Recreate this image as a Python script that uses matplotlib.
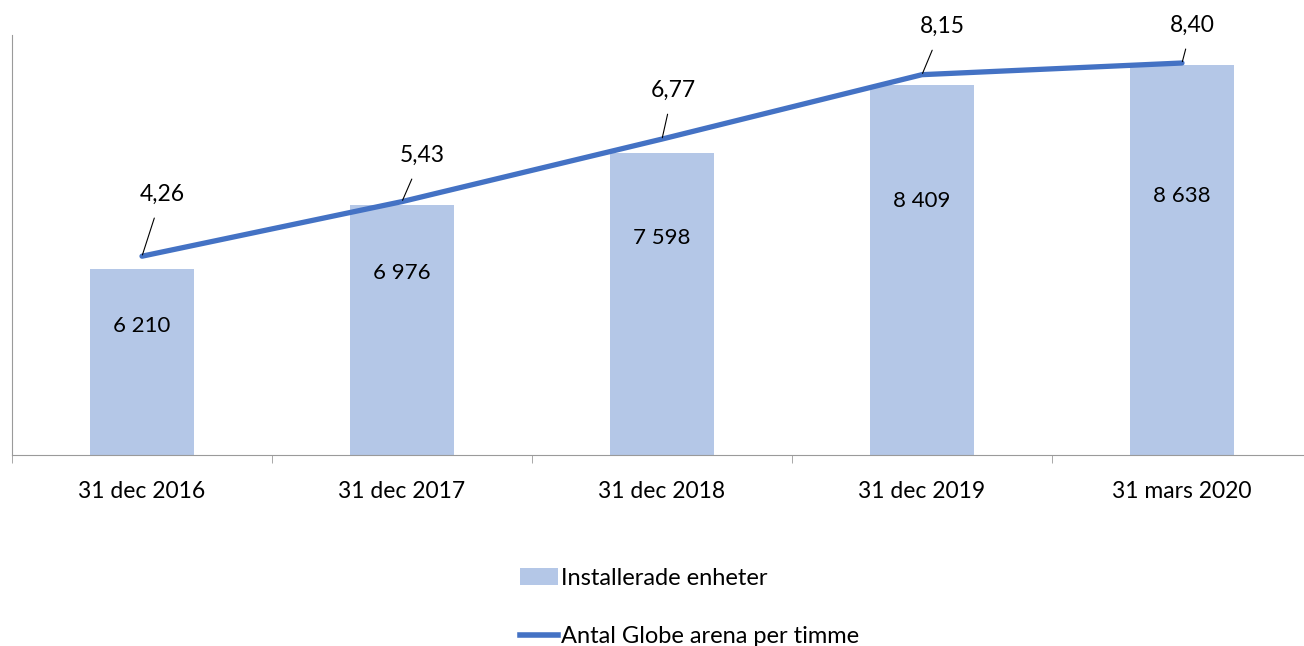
import numpy as np
import matplotlib.pyplot as plt
from matplotlib.patches import Patch
from matplotlib.lines import Line2D

# Data

categories = ["31 dec 2016", "31 dec 2017", "31 dec 2018", "31 dec 2019", "31 mars 2020"]
units = [6210, 6976, 7598, 8409, 8638]
unit_labels = ["6 210", "6 976", "7 598", "8 409", "8 638"]
per_hour = [4.26, 5.43, 6.77, 8.15, 8.40]
per_hour_labels = ["4,26", "5,43", "6,77", "8,15", "8,40"]

bar_color = "#B4C7E7"
line_color = "#4472C4"
font = ["Lato", "DejaVu Sans"]

plt.rcParams['font.family'] = font

fig = plt.figure(figsize=(13.04, 6.46), dpi=100)
ax = fig.add_axes([12/1304, 191/646, 1300/1304, 420/646])
x = np.arange(len(categories))

ax.bar(x, units, width=0.4, color=bar_color, zorder=2)
ax.set_ylim(4000, 9000)
ax.set_xlim(-0.5, len(categories) - 0.5)

# bar labels, placed a bit below the top of each bar
bar_drop = [57, 68, 85, 116, 131]
for xi, v, lab, d in zip(x, units, unit_labels, bar_drop):
    ax.annotate(lab, (xi, v), xytext=(0, -d), textcoords='offset pixels',
                ha='center', va='center', fontsize=16)

ax2 = ax.twinx()
ax2.set_ylim(0, 9)
ax2.plot(x, per_hour, color=line_color, lw=3.8, solid_capstyle='round', zorder=3)

# line labels with leader lines
offs = [(20, 62), (20, 46), (11, 49), (20, 48), (10, 38)]
for xi, v, lab, (dx, dy) in zip(x, per_hour, per_hour_labels, offs):
    ax2.annotate(lab, (xi, v), xytext=(dx, dy), textcoords='offset pixels',
                 ha='center', va='center', fontsize=16.5,
                 arrowprops=dict(arrowstyle='-', color='black', lw=0.8,
                                 shrinkA=8, shrinkB=1))

# axes styling
for a in (ax, ax2):
    a.spines['top'].set_visible(False)
    a.spines['right'].set_visible(False)
ax2.set_yticks([])
ax.set_yticks([])
ax.spines['left'].set_color('#9a9a9a')
ax.spines['bottom'].set_color('#9a9a9a')
ax2.spines['left'].set_visible(False)
ax2.spines['bottom'].set_visible(False)

ax.set_xticks(x)
ax.set_xticklabels(categories, fontsize=16.5)
ax.tick_params(axis='x', length=0, pad=19)
ax.set_xticks(np.arange(len(categories)) - 0.5, minor=True)
ax.tick_params(axis='x', which='minor', length=6, color='#9a9a9a')

handles = [Patch(facecolor=bar_color, edgecolor='none'),
           Line2D([0], [0], color=line_color, lw=4)]
fig.legend(handles, ["Installerade enheter", "Antal Globe arena per timme"],
           loc='upper left', bbox_to_anchor=(520/1304, 1 - 568/646),
           frameon=False, fontsize=17, labelspacing=1.58, handlelength=1.6,
           handletextpad=0.15, borderpad=0, borderaxespad=0)

plt.savefig("out.png", dpi=100)
